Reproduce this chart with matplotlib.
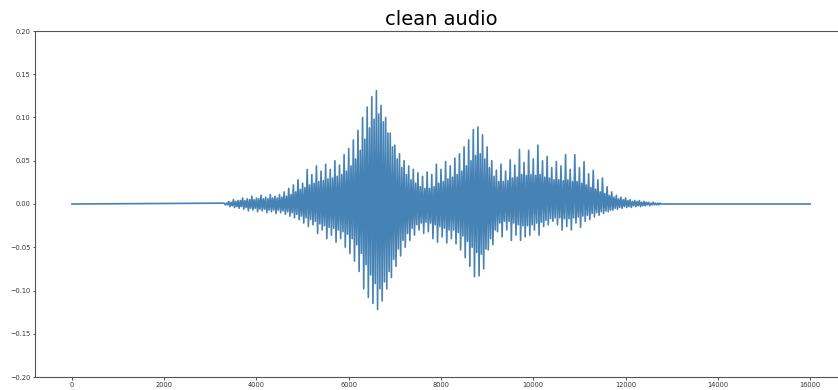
import numpy as np
import matplotlib
matplotlib.use('Agg')
import matplotlib.pyplot as plt

# waveform: every 100 samples from sample 3300 there is an
# outer spike (hi, lo) followed by a smaller swing that fills the core (core_hi, core_lo)
start = 3300
step = 100
n_total = 16000

hi = [0.001, 0.003, 0.005, 0.004, 0.007, 0.006, 0.009, 0.007, 0.010, 0.008,
      0.011, 0.009, 0.011, 0.014, 0.018, 0.022, 0.028, 0.024, 0.040, 0.034,
      0.044, 0.038, 0.046, 0.040, 0.050, 0.045, 0.057, 0.064, 0.074, 0.085,
      0.100, 0.112, 0.124, 0.131, 0.114, 0.100, 0.082, 0.068, 0.058, 0.050,
      0.044, 0.040, 0.036, 0.032, 0.037, 0.034, 0.046, 0.040, 0.049, 0.044,
      0.053, 0.058, 0.066, 0.074, 0.086, 0.089, 0.080, 0.066, 0.050, 0.039,
      0.046, 0.038, 0.051, 0.045, 0.063, 0.048, 0.062, 0.052, 0.068, 0.050,
      0.055, 0.042, 0.049, 0.044, 0.057, 0.040, 0.057, 0.042, 0.049, 0.035,
      0.039, 0.028, 0.030, 0.020, 0.014, 0.010, 0.008, 0.007, 0.005, 0.004,
      0.004, 0.003, 0.002, 0.002, 0.001]

lo = [-0.001, -0.003, -0.004, -0.005, -0.006, -0.008, -0.007, -0.009, -0.008, -0.010,
      -0.009, -0.011, -0.010, -0.012, -0.014, -0.016, -0.018, -0.022, -0.026, -0.024,
      -0.034, -0.030, -0.040, -0.036, -0.044, -0.040, -0.050, -0.057, -0.066, -0.078,
      -0.098, -0.108, -0.115, -0.122, -0.112, -0.098, -0.085, -0.072, -0.060, -0.050,
      -0.042, -0.036, -0.030, -0.034, -0.032, -0.040, -0.044, -0.038, -0.045, -0.040,
      -0.046, -0.053, -0.062, -0.072, -0.084, -0.083, -0.075, -0.053, -0.047, -0.032,
      -0.038, -0.030, -0.042, -0.036, -0.042, -0.038, -0.036, -0.030, -0.036, -0.026,
      -0.024, -0.020, -0.024, -0.030, -0.026, -0.030, -0.022, -0.027, -0.020, -0.018,
      -0.015, -0.013, -0.011, -0.009, -0.007, -0.006, -0.005, -0.004, -0.004, -0.003,
      -0.003, -0.002, -0.002, -0.001, -0.001]

core_hi = [0.001, 0.002, 0.003, 0.004, 0.004, 0.005, 0.005, 0.006, 0.006, 0.006,
           0.007, 0.007, 0.008, 0.009, 0.011, 0.014, 0.017, 0.019, 0.022, 0.024,
           0.026, 0.027, 0.029, 0.030, 0.032, 0.034, 0.038, 0.044, 0.052, 0.062,
           0.075, 0.088, 0.098, 0.104, 0.095, 0.082, 0.066, 0.052, 0.042, 0.034,
           0.028, 0.024, 0.020, 0.018, 0.018, 0.020, 0.024, 0.026, 0.029, 0.031,
           0.034, 0.038, 0.044, 0.050, 0.056, 0.058, 0.052, 0.042, 0.032, 0.026,
           0.026, 0.027, 0.030, 0.031, 0.034, 0.033, 0.034, 0.033, 0.034, 0.031,
           0.030, 0.028, 0.028, 0.027, 0.028, 0.026, 0.026, 0.024, 0.022, 0.019,
           0.017, 0.014, 0.012, 0.010, 0.008, 0.006, 0.005, 0.004, 0.003, 0.003,
           0.002, 0.002, 0.001, 0.001, 0.001]

core_lo = [-0.001, -0.002, -0.003, -0.003, -0.004, -0.005, -0.005, -0.006, -0.006, -0.007,
           -0.007, -0.007, -0.008, -0.009, -0.010, -0.012, -0.014, -0.016, -0.018, -0.020,
           -0.023, -0.025, -0.027, -0.028, -0.030, -0.032, -0.035, -0.040, -0.047, -0.057,
           -0.070, -0.082, -0.092, -0.098, -0.090, -0.078, -0.064, -0.052, -0.042, -0.034,
           -0.028, -0.024, -0.022, -0.021, -0.022, -0.024, -0.026, -0.028, -0.030, -0.030,
           -0.033, -0.037, -0.043, -0.050, -0.056, -0.058, -0.052, -0.040, -0.030, -0.022,
           -0.020, -0.020, -0.022, -0.024, -0.025, -0.025, -0.024, -0.022, -0.021, -0.019,
           -0.017, -0.016, -0.016, -0.017, -0.017, -0.016, -0.015, -0.014, -0.013, -0.011,
           -0.010, -0.009, -0.008, -0.007, -0.005, -0.004, -0.003, -0.003, -0.002, -0.002,
           -0.002, -0.001, -0.001, -0.001, 0.000]

pos = start + step * np.arange(len(hi))
q = step / 4
t = np.concatenate([[0], np.column_stack([pos, pos + q, pos + 2 * q, pos + 3 * q]).ravel(), [n_total]])
y = np.concatenate([[0], np.column_stack([hi, lo, core_hi, core_lo]).ravel(), [0]])

fig = plt.figure(figsize=(8.38, 3.9), dpi=100)
ax = fig.add_axes([35 / 838, 13 / 390, 812 / 838, 346 / 390])
ax.plot(t, y, color='steelblue', linewidth=1.2)

ax.set_xlim(-800, 16800)
ax.set_ylim(-0.2, 0.2)
ax.set_title('clean audio', fontsize=14, pad=4)
ax.tick_params(labelsize=4.8, length=1.8, pad=1.5, colors='#333333', width=0.6)
for s in ax.spines.values():
    s.set_color('#555555')
    s.set_linewidth(0.8)

fig.savefig('out.png', dpi=100)
